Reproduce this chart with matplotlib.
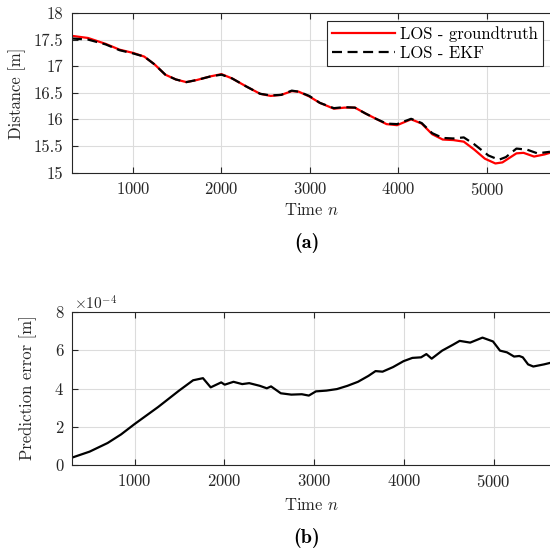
import matplotlib
matplotlib.use("Agg")
import matplotlib.pyplot as plt
from matplotlib.ticker import FuncFormatter

plt.rcParams['font.family'] = 'serif'
plt.rcParams['font.serif'] = ['cmr10', 'DejaVu Serif']
plt.rcParams['mathtext.fontset'] = 'cm'
plt.rcParams['axes.formatter.use_mathtext'] = True
plt.rcParams['axes.unicode_minus'] = False

# ---- data (a) ----
t_gt = [310, 492, 690, 849, 1000, 1127, 1246, 1365, 1484, 1603, 1722, 1881, 2000,
        2119, 2278, 2437, 2556, 2675, 2794, 2873, 2992, 3111, 3270, 3389, 3508,
        3627, 3746, 3865, 3984, 4143, 4262, 4381, 4500, 4619, 4738, 4857, 4976,
        5095, 5175, 5333, 5413, 5532, 5651, 5712]
d_gt = [17.57, 17.53, 17.42, 17.31, 17.25, 17.18, 17.03, 16.84, 16.75, 16.70, 16.74,
        16.81, 16.85, 16.77, 16.62, 16.48, 16.44, 16.46, 16.53, 16.52, 16.43, 16.31,
        16.20, 16.22, 16.22, 16.11, 16.01, 15.91, 15.89, 16.00, 15.92, 15.72, 15.62,
        15.61, 15.58, 15.43, 15.26, 15.17, 15.19, 15.36, 15.37, 15.30, 15.34, 15.37]

t_ekf = [310, 492, 690, 849, 1000, 1127, 1246, 1365, 1484, 1603, 1722, 1881, 2000,
         2119, 2278, 2437, 2556, 2675, 2794, 2873, 2992, 3111, 3270, 3389, 3508,
         3627, 3746, 3865, 3984, 4143, 4262, 4381, 4500, 4619, 4738, 4857, 5016,
         5135, 5214, 5333, 5452, 5571, 5712]
d_ekf = [17.52, 17.50, 17.41, 17.30, 17.24, 17.18, 17.03, 16.84, 16.75, 16.70, 16.74,
         16.81, 16.84, 16.77, 16.62, 16.48, 16.45, 16.46, 16.54, 16.52, 16.44, 16.31,
         16.21, 16.23, 16.22, 16.11, 16.01, 15.92, 15.91, 16.01, 15.93, 15.74, 15.65,
         15.64, 15.66, 15.53, 15.32, 15.24, 15.29, 15.45, 15.43, 15.36, 15.39]

# ---- data (b) ----
t_err = [300, 500, 700, 850, 1000, 1262, 1496, 1652, 1762, 1848, 1965, 2004, 2102, 2199, 2277,
         2395, 2473, 2520, 2629, 2746, 2863, 2941, 3020, 3137, 3254, 3371, 3488,
         3605, 3684, 3762, 3879, 3996, 4094, 4191, 4250, 4309, 4426, 4543, 4621,
         4738, 4875, 4992, 5070, 5148, 5227, 5285, 5324, 5383, 5441, 5559, 5629]
err_e4 = [0.38, 0.70, 1.15, 1.60, 2.14, 3.03, 3.89, 4.43, 4.54, 4.06, 4.32, 4.20, 4.35, 4.23, 4.28,
          4.14, 4.01, 4.11, 3.75, 3.68, 3.70, 3.63, 3.85, 3.89, 3.97, 4.14, 4.35,
          4.66, 4.91, 4.88, 5.12, 5.43, 5.60, 5.63, 5.80, 5.56, 5.98, 6.28, 6.49,
          6.40, 6.66, 6.46, 5.98, 5.89, 5.67, 5.70, 5.63, 5.26, 5.15, 5.26, 5.34]

W = 550.0
fig = plt.figure(figsize=(5.5, 5.5), dpi=100)

def fx(px):
    return px / W

def fy(py):
    return 1 - py / W

grid_kw = dict(color='#dcdcdc', linewidth=0.8)
spine_c = '#262626'
FS = 12

def style(ax):
    ax.grid(True, **grid_kw)
    ax.set_axisbelow(True)
    for s in ax.spines.values():
        s.set_color(spine_c)
        s.set_linewidth(0.8)
    ax.tick_params(direction='in', top=True, right=True, length=4, width=0.8,
                   colors=spine_c, labelcolor='#262626', labelsize=FS, pad=6)

# Top axes
ax1 = fig.add_axes([fx(71.5), fy(172.5), 1 - fx(71.5) + 0.02, fy(13) - fy(172.5)])
ax1.plot(t_gt, d_gt, color='#ff0000', linewidth=1.6, label='LOS - groundtruth')
ax1.plot(t_ekf, d_ekf, color='black', linewidth=1.6, linestyle=(0, (4.5, 2.5)),
         label='LOS - EKF')
ax1.set_xlim(305, 5712 + 0.02 * 550 / 88.3 * 1000)
ax1.set_ylim(15, 18)
ax1.set_xticks([1000, 2000, 3000, 4000, 5000])
ax1.set_yticks([15, 15.5, 16, 16.5, 17, 17.5, 18])
ax1.yaxis.set_major_formatter(FuncFormatter(lambda v, p: ('%g' % v)))
style(ax1)
leg = ax1.legend(loc='upper right', bbox_to_anchor=(fx(543), fy(21)),
                 bbox_transform=fig.transFigure, borderaxespad=0, fontsize=FS,
                 frameon=True, fancybox=False, framealpha=1, edgecolor='#262626',
                 handlelength=3.8, handletextpad=0.3, borderpad=0.3, labelspacing=0.25)
leg.get_frame().set_linewidth(0.8)

# Bottom axes
ax2 = fig.add_axes([fx(71.7), fy(465), 1 - fx(71.7) + 0.02, fy(312) - fy(465)])
ax2.plot(t_err, [e * 1e-4 for e in err_e4], color='black', linewidth=1.6)
ax2.set_xlim(300, 5627 + 0.02 * 550 / 89.8 * 1000)
ax2.set_ylim(0, 8e-4)
ax2.set_xticks([1000, 2000, 3000, 4000, 5000])
ax2.set_yticks([0, 2e-4, 4e-4, 6e-4, 8e-4])
ax2.yaxis.set_major_formatter(FuncFormatter(lambda v, p: '%g' % round(v * 1e4, 6)))
style(ax2)

# Labels
fig.text(fx(311), fy(210), r'Time $n$', ha='center', va='center', fontsize=FS, color='#262626')
fig.text(fx(17.5), fy(93), 'Distance [m]', ha='center', va='center', rotation=90,
         fontsize=FS, color='#262626')
fig.text(fx(307), fy(243), '(a)', ha='center', va='center', fontsize=14.5, family='cmb10')

fig.text(fx(311), fy(505), r'Time $n$', ha='center', va='center', fontsize=FS, color='#262626')
fig.text(fx(28), fy(388), 'Prediction error [m]', ha='center', va='center', rotation=90,
         fontsize=FS, color='#262626')
fig.text(fx(74), fy(304), r'$\times10^{-4}$', ha='left', va='center', fontsize=11,
         color='#262626')
fig.text(fx(307), fy(538), '(b)', ha='center', va='center', fontsize=14.5, family='cmb10')

fig.savefig('out.png', dpi=100)
